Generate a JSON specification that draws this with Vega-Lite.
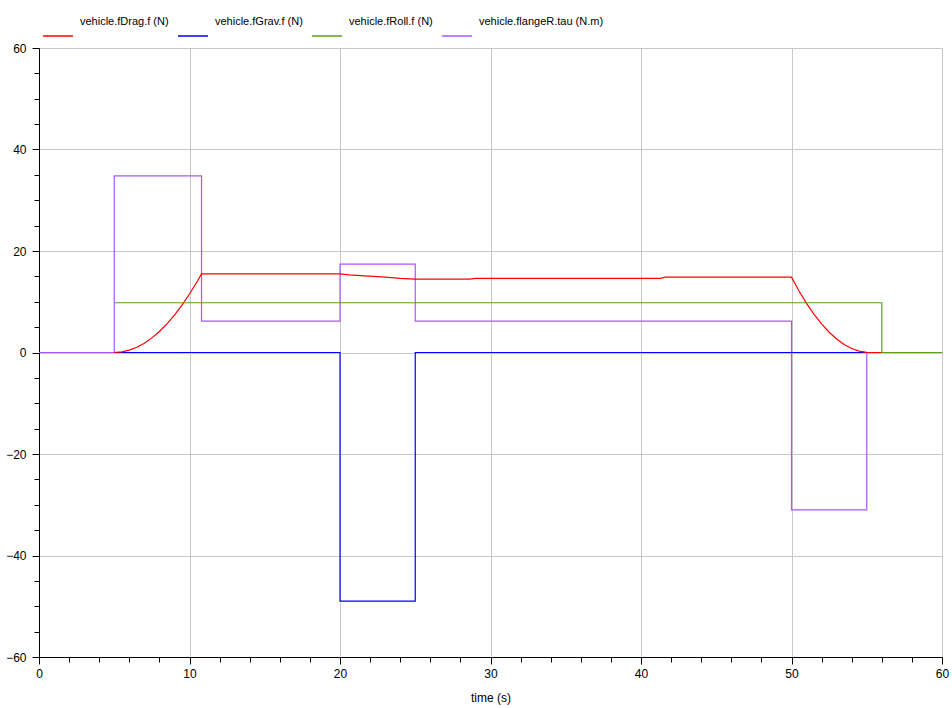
{
  "$schema": "https://vega.github.io/schema/vega-lite/v6.json",
  "width": 903,
  "height": 609,
  "autosize": {"type": "none"},
  "padding": {"left": 39, "top": 48, "right": 10, "bottom": 51},
  "background": "white",
  "config": {"view": {"stroke": null}, "font": "Liberation Sans"},
  "data": {"values": [
    {"series": "vehicle.flangeR.tau (N.m)", "i": 0, "t": 0, "v": 0},
    {"series": "vehicle.flangeR.tau (N.m)", "i": 1, "t": 5, "v": 0},
    {"series": "vehicle.flangeR.tau (N.m)", "i": 2, "t": 5, "v": 34.8},
    {"series": "vehicle.flangeR.tau (N.m)", "i": 3, "t": 10.8, "v": 34.8},
    {"series": "vehicle.flangeR.tau (N.m)", "i": 4, "t": 10.8, "v": 6.2},
    {"series": "vehicle.flangeR.tau (N.m)", "i": 5, "t": 20, "v": 6.2},
    {"series": "vehicle.flangeR.tau (N.m)", "i": 6, "t": 20, "v": 17.4},
    {"series": "vehicle.flangeR.tau (N.m)", "i": 7, "t": 25, "v": 17.4},
    {"series": "vehicle.flangeR.tau (N.m)", "i": 8, "t": 25, "v": 6.2},
    {"series": "vehicle.flangeR.tau (N.m)", "i": 9, "t": 50, "v": 6.2},
    {"series": "vehicle.flangeR.tau (N.m)", "i": 10, "t": 50, "v": -31},
    {"series": "vehicle.flangeR.tau (N.m)", "i": 11, "t": 55, "v": -31},
    {"series": "vehicle.flangeR.tau (N.m)", "i": 12, "t": 55, "v": 0},
    {"series": "vehicle.flangeR.tau (N.m)", "i": 13, "t": 60, "v": 0},
    {"series": "vehicle.fGrav.f (N)", "i": 0, "t": 5, "v": 0},
    {"series": "vehicle.fGrav.f (N)", "i": 1, "t": 20, "v": 0},
    {"series": "vehicle.fGrav.f (N)", "i": 2, "t": 20, "v": -49},
    {"series": "vehicle.fGrav.f (N)", "i": 3, "t": 25, "v": -49},
    {"series": "vehicle.fGrav.f (N)", "i": 4, "t": 25, "v": 0},
    {"series": "vehicle.fGrav.f (N)", "i": 5, "t": 55, "v": 0},
    {"series": "vehicle.fDrag.f (N)", "i": 0, "t": 5, "v": 0},
    {"series": "vehicle.fDrag.f (N)", "i": 1, "t": 5.5, "v": 0.12},
    {"series": "vehicle.fDrag.f (N)", "i": 2, "t": 6, "v": 0.46},
    {"series": "vehicle.fDrag.f (N)", "i": 3, "t": 6.5, "v": 1.04},
    {"series": "vehicle.fDrag.f (N)", "i": 4, "t": 7, "v": 1.84},
    {"series": "vehicle.fDrag.f (N)", "i": 5, "t": 7.5, "v": 2.88},
    {"series": "vehicle.fDrag.f (N)", "i": 6, "t": 8, "v": 4.15},
    {"series": "vehicle.fDrag.f (N)", "i": 7, "t": 8.5, "v": 5.65},
    {"series": "vehicle.fDrag.f (N)", "i": 8, "t": 9, "v": 7.37},
    {"series": "vehicle.fDrag.f (N)", "i": 9, "t": 9.5, "v": 9.33},
    {"series": "vehicle.fDrag.f (N)", "i": 10, "t": 10, "v": 11.52},
    {"series": "vehicle.fDrag.f (N)", "i": 11, "t": 10.5, "v": 13.94},
    {"series": "vehicle.fDrag.f (N)", "i": 12, "t": 10.8, "v": 15.5},
    {"series": "vehicle.fDrag.f (N)", "i": 13, "t": 20, "v": 15.5},
    {"series": "vehicle.fDrag.f (N)", "i": 14, "t": 20.6, "v": 15.3},
    {"series": "vehicle.fDrag.f (N)", "i": 15, "t": 21.6, "v": 15.1},
    {"series": "vehicle.fDrag.f (N)", "i": 16, "t": 22.8, "v": 14.9},
    {"series": "vehicle.fDrag.f (N)", "i": 17, "t": 24, "v": 14.6},
    {"series": "vehicle.fDrag.f (N)", "i": 18, "t": 25, "v": 14.45},
    {"series": "vehicle.fDrag.f (N)", "i": 19, "t": 28.6, "v": 14.45},
    {"series": "vehicle.fDrag.f (N)", "i": 20, "t": 29, "v": 14.6},
    {"series": "vehicle.fDrag.f (N)", "i": 21, "t": 41.3, "v": 14.6},
    {"series": "vehicle.fDrag.f (N)", "i": 22, "t": 41.6, "v": 14.85},
    {"series": "vehicle.fDrag.f (N)", "i": 23, "t": 50, "v": 14.85},
    {"series": "vehicle.fDrag.f (N)", "i": 24, "t": 50.5, "v": 12.13},
    {"series": "vehicle.fDrag.f (N)", "i": 25, "t": 51, "v": 9.69},
    {"series": "vehicle.fDrag.f (N)", "i": 26, "t": 51.5, "v": 7.52},
    {"series": "vehicle.fDrag.f (N)", "i": 27, "t": 52, "v": 5.62},
    {"series": "vehicle.fDrag.f (N)", "i": 28, "t": 52.5, "v": 4.0},
    {"series": "vehicle.fDrag.f (N)", "i": 29, "t": 53, "v": 2.66},
    {"series": "vehicle.fDrag.f (N)", "i": 30, "t": 53.5, "v": 1.59},
    {"series": "vehicle.fDrag.f (N)", "i": 31, "t": 54, "v": 0.79},
    {"series": "vehicle.fDrag.f (N)", "i": 32, "t": 54.5, "v": 0.27},
    {"series": "vehicle.fDrag.f (N)", "i": 33, "t": 55, "v": 0.02},
    {"series": "vehicle.fDrag.f (N)", "i": 34, "t": 56, "v": 0},
    {"series": "vehicle.fRoll.f (N)", "i": 0, "t": 5, "v": 9.8},
    {"series": "vehicle.fRoll.f (N)", "i": 1, "t": 56, "v": 9.8},
    {"series": "vehicle.fRoll.f (N)", "i": 2, "t": 56, "v": 0},
    {"series": "vehicle.fRoll.f (N)", "i": 3, "t": 60, "v": 0}
  ]},
  "encoding": {
    "x": {
      "field": "t", "type": "quantitative",
      "scale": {"domain": [0, 60], "nice": false, "zero": false},
      "axis": {
        "values": [0,2,4,6,8,10,12,14,16,18,20,22,24,26,28,30,32,34,36,38,40,42,44,46,48,50,52,54,56,58,60],
        "labelExpr": "datum.value % 10 === 0 ? datum.label : ''",
        "labelOverlap": false,
        "labelFlush": false,
        "grid": true,
        "gridColor": "#c8c8c8",
        "gridWidth": 1,
        "gridOpacity": {"condition": {"test": "datum.value % 10 === 0", "value": 1}, "value": 0},
        "tickSize": {"condition": {"test": "datum.value % 10 === 0", "value": 7}, "value": 5},
        "tickColor": "black",
        "domainColor": "black",
        "labelColor": "black",
        "labelFontSize": 12,
        "labelPadding": 4,
        "title": "time (s)",
        "titleFontWeight": "normal",
        "titleFontSize": 12,
        "titleColor": "black",
        "titlePadding": 13
      }
    },
    "y": {
      "field": "v", "type": "quantitative",
      "scale": {"domain": [-60, 60], "nice": false},
      "axis": {
        "values": [-60,-55,-50,-45,-40,-35,-30,-25,-20,-15,-10,-5,0,5,10,15,20,25,30,35,40,45,50,55,60],
        "labelExpr": "datum.value % 20 === 0 ? datum.label : ''",
        "labelOverlap": false,
        "labelFlush": false,
        "grid": true,
        "gridColor": "#c8c8c8",
        "gridWidth": 1,
        "gridOpacity": {"condition": {"test": "datum.value % 20 === 0", "value": 1}, "value": 0},
        "tickSize": {"condition": {"test": "datum.value % 20 === 0", "value": 7}, "value": 5},
        "tickColor": "black",
        "domainColor": "black",
        "labelColor": "black",
        "labelFontSize": 12,
        "labelPadding": 6,
        "title": null
      }
    },
    "color": {
      "field": "series", "type": "nominal",
      "scale": {
        "domain": ["vehicle.fDrag.f (N)", "vehicle.fGrav.f (N)", "vehicle.fRoll.f (N)", "vehicle.flangeR.tau (N.m)"],
        "range": ["#ff0000", "#0000ff", "#5ba01b", "#aa55ff"]
      },
      "legend": {
        "orient": "none",
        "legendX": 3,
        "legendY": -28,
        "direction": "horizontal",
        "title": null,
        "symbolType": "stroke",
        "symbolSize": 900,
        "symbolStrokeWidth": 1.5,
        "labelFontSize": 11,
        "labelColor": "black",
        "labelOffset": 6,
        "columnPadding": 6,
        "padding": 0,
        "labelLimit": 300,
        "encode": {"labels": {"update": {"dy": {"value": -14}}}}
      }
    },
    "order": {"field": "i", "type": "quantitative"}
  },
  "layer": [
    {"transform": [{"filter": "datum.series === 'vehicle.flangeR.tau (N.m)'"}], "mark": {"type": "line", "strokeWidth": 1.2}},
    {"transform": [{"filter": "datum.series === 'vehicle.fGrav.f (N)'"}], "mark": {"type": "line", "strokeWidth": 1.2}},
    {"transform": [{"filter": "datum.series === 'vehicle.fDrag.f (N)'"}], "mark": {"type": "line", "strokeWidth": 1.2}},
    {"transform": [{"filter": "datum.series === 'vehicle.fRoll.f (N)'"}], "mark": {"type": "line", "strokeWidth": 1.2}}
  ]
}
